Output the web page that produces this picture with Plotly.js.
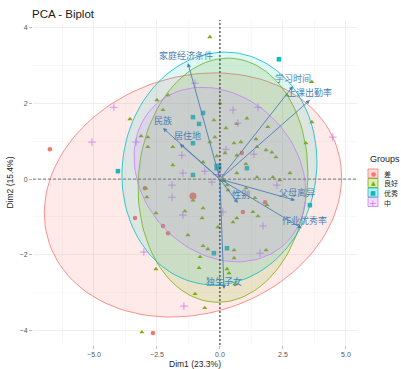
<!DOCTYPE html>
<html><head><meta charset="utf-8">
<script src="https://cdn.plot.ly/plotly-3.0.1.min.js"></script>
<style>body{margin:0;padding:0;background:#fff;} #chart{width:401px;height:369px;}</style>
</head><body><div id="chart"></div>
<script>
// ---- data ----
const groups = ['差', '良好', '优秀', '中'];
const groupColors = ['#F8766D', '#7CAE00', '#00BFC4', '#C77CFF'];
const groupFills = ['rgba(248,118,109,0.15)', 'rgba(124,174,0,0.15)', 'rgba(0,191,196,0.13)', 'rgba(199,124,255,0.15)'];
const groupSymbols = ['circle', 'triangle-up', 'square', 'cross-thin'];

const chaX = [-6.75, 0.87, -2.98, -3.37, -2.26, -2.06, 1.79, 0.91, -2.66];
const chaY = [0.79, 0.69, -0.24, -1.03, -1.24, -1.43, -0.61, -0.87, -4.07];

const lhX = [-0.40, 0.00, 3.65, 2.66, -2.50, -2.06, -3.57, -2.26, -3.13, -2.86, -2.86, -1.87, -1.87, -0.24, 1.07, 0.67, 0.24, 1.90, -0.20, -0.40, 0.56, 0.83, 1.43, 1.47, 0.20, 1.83, 2.06, 2.22, 0.67, -0.12, 1.03, -0.67, 0.67, 1.47, 2.10, 2.78, 3.41, 3.65, 2.38, -2.94, -1.07, -0.67, -1.39, -0.71, -2.54, -1.27, -0.08, -0.67, -0.48, -0.83, -2.54, -0.99, 0.56, 0.28, 0.36, 0.28, 0.32, 1.03, 1.39, 1.31, 1.51, 0.67, 0.52, 0.56, 1.83, -0.60, -3.10, 0.60, -2.90, -0.79, 1.87];
const lhY = [3.76, 2.01, 2.57, 2.22, 2.09, 2.22, 1.59, 1.83, 1.14, 1.11, 0.85, 0.85, 0.37, 1.56, 1.61, 1.46, 1.35, 1.38, 1.11, 0.98, 0.95, 0.98, 1.06, 0.85, 0.69, 0.77, 0.71, 0.58, 0.63, 0.61, 0.40, 0.45, 0.16, 0.05, 0.05, 0.16, 0.95, 1.51, -0.03, -0.24, -0.56, -0.77, -0.85, -1.03, -0.90, -1.48, -1.27, -1.77, -1.85, -2.35, -2.38, -3.04, -2.09, -2.38, -2.49, -0.16, -0.29, -0.24, -0.50, -0.87, -0.98, -1.03, -1.14, -1.88, -1.88, -3.41, -4.05, -2.78, -0.48, -2.06, -0.69];

const yxX = [2.34, -0.67, -0.83, -1.07, -4.05, -1.07, 1.07, -0.24, 0.28, -1.07, 3.57];
const yxY = [3.17, 1.75, 1.46, 0.95, 0.21, 0.11, 0.29, -1.96, -1.83, 1.64, -0.69];

const zhX = [-4.21, -5.08, -3.33, -0.99, 0.52, 1.51, 0.71, 4.48, -1.51, -1.47, -0.60, 0.24, 1.35, -1.90, -1.90, -1.47, -0.32, 0.12, 2.26, 1.71, 1.59, -3.02, -1.43];
const zhY = [1.90, 0.98, 0.98, 2.54, 1.83, 1.90, 1.48, 1.11, 0.63, 0.16, 0.21, 0.79, 0.66, -0.16, -0.48, -0.95, -0.08, -0.87, -0.16, -1.24, -1.96, -1.93, -3.36];

const meanX = [-1.07, 0.12, -0.08, -0.05];
const meanY = [-0.45, -0.03, 0.32, 0.12];

// ellipse parameters (center, half-extent in x and y, covariance term)
const ellCx = [-1.07, 0.12, -0.02, 0.00];
const ellCy = [-0.42, -0.03, 0.28, 0.12];
const ellRx = [5.90, 3.37, 3.87, 3.41];
const ellRy = [3.23, 3.23, 3.08, 2.31];
const ellCov = [2.81, 0.65, 0.67, -1.60];

const varNames = ['家庭经济条件', '学习时间', '上课出勤率', '民族', '居住地', '父母离异', '作业优秀率', '性别', '独生子女'];
const varX = [-1.27, 2.90, 3.57, -2.26, -1.59, 2.98, 3.25, 0.71, 0.16];
const varY = [3.07, 2.46, 2.09, 1.35, 0.93, -0.56, -1.30, -0.63, -2.91];
const labelShiftX = [-2, 0, 0, 0, 8, 2, 3, 3, 0];

const xTitle = 'Dim1 (23.3%)';
const yTitle = 'Dim2 (15.4%)';
const chartTitle = 'PCA - Biplot';

// ---- build ----
const ptsX = [chaX, lhX, yxX, zhX];
const ptsY = [chaY, lhY, yxY, zhY];
const traces = [];
for (let g = 0; g < 4; g++) {
  const isCross = groupSymbols[g] === 'cross-thin';
  traces.push({
    type: 'scatter', mode: 'markers', name: groups[g], showlegend: false,
    x: ptsX[g], y: ptsY[g],
    marker: { symbol: groupSymbols[g], size: isCross ? 5.5 : 4.5, color: groupColors[g],
      line: { color: groupColors[g], width: isCross ? 0.8 : 0 } },
    hoverinfo: 'skip'
  });
}
for (let g = 0; g < 4; g++) {
  const isCross = groupSymbols[g] === 'cross-thin';
  traces.push({
    type: 'scatter', mode: 'markers', showlegend: false,
    x: [meanX[g]], y: [meanY[g]],
    marker: { symbol: groupSymbols[g], size: isCross ? 8 : 7, color: groupColors[g],
      line: { color: groupColors[g], width: isCross ? 1.2 : 0 } },
    hoverinfo: 'skip'
  });
}
// ellipses
for (let g = 0; g < 4; g++) {
  const l11 = ellRx[g];
  const l21 = ellCov[g] / l11;
  const l22 = Math.sqrt(ellRy[g] * ellRy[g] - l21 * l21);
  const ex = [], ey = [];
  for (let i = 0; i <= 120; i++) {
    const t = 2 * Math.PI * i / 120;
    ex.push(ellCx[g] + l11 * Math.cos(t));
    ey.push(ellCy[g] + l21 * Math.cos(t) + l22 * Math.sin(t));
  }
  traces.push({
    type: 'scatter', mode: 'lines', showlegend: false, x: ex, y: ey,
    fill: 'toself', fillcolor: groupFills[g],
    line: { color: groupColors[g], width: 0.8 }, hoverinfo: 'skip'
  });
}

const annotations = [];
const blue = '#4A7FB5';
for (let i = 0; i < varNames.length; i++) {
  annotations.push({
    x: varX[i], y: varY[i], ax: 0, ay: 0, xref: 'x', yref: 'y', axref: 'x', ayref: 'y',
    text: '', showarrow: true, arrowhead: 2, arrowsize: 0.9, arrowwidth: 0.9, arrowcolor: blue
  });
  annotations.push({
    x: varX[i], y: varY[i], xref: 'x', yref: 'y', text: varNames[i], showarrow: false,
    xshift: labelShiftX[i], yshift: 8,
    font: { family: 'Noto Sans CJK SC, sans-serif', size: 9, color: blue }
  });
}

// custom legend (Groups)
const L = 33, R = 357, T = 20, B = 345;
const px = v => (v - L) / (R - L);
const py = v => (B - v) / (B - T);
const shapes = [
  { type: 'line', xref: 'x', yref: 'paper', x0: 0, x1: 0, y0: 0, y1: 1, line: { color: '#222', width: 1, dash: '2px,2px' }, layer: 'above' },
  { type: 'line', xref: 'paper', yref: 'y', x0: 0, x1: 1, y0: 0, y1: 0, line: { color: '#777', width: 1, dash: '3px,2px' }, layer: 'above' }
];
annotations.push({ xref: 'paper', yref: 'paper', x: px(368), y: py(159), xanchor: 'left', yanchor: 'middle',
  text: 'Groups', showarrow: false, font: { family: 'Liberation Sans, Arial, sans-serif', size: 9, color: '#222' } });
const glyphs = ['●', '▲', '■', '+'];
const keyCy = [173.5, 183, 192.5, 202];
for (let g = 0; g < 4; g++) {
  shapes.push({ type: 'rect', xref: 'paper', yref: 'paper', x0: px(368), x1: px(378), y0: py(keyCy[g] - 4.5), y1: py(keyCy[g] + 4.5),
    fillcolor: groupFills[g].replace(/0\.1[35]\)/, '0.25)'), line: { color: groupColors[g], width: 0.8 } });
  annotations.push({ xref: 'paper', yref: 'paper', x: px(373), y: py(keyCy[g]), xanchor: 'center', yanchor: 'middle',
    text: glyphs[g], showarrow: false, height: 9, font: { family: 'DejaVu Sans', size: g === 3 ? 9 : 6, color: groupColors[g] } });
  annotations.push({ xref: 'paper', yref: 'paper', x: px(382), y: py(keyCy[g]), xanchor: 'left', yanchor: 'middle',
    text: groups[g], showarrow: false, height: 9, font: { family: 'Noto Sans CJK SC, sans-serif', size: 7, color: '#222' } });
}

const axisCommon = {
  showgrid: true, gridcolor: '#EBEBEB', gridwidth: 0.8, zeroline: false, showline: false,
  ticks: 'outside', ticklen: 3, tickcolor: '#aaa', tickwidth: 0.8,
  tickfont: { family: 'Liberation Sans, Arial, sans-serif', size: 7, color: '#555' }
};
const layout = {
  width: 401, height: 369,
  margin: { l: L, r: 401 - R, t: T, b: 369 - B },
  paper_bgcolor: '#fff', plot_bgcolor: '#fff',
  showlegend: false,
  title: { text: chartTitle, xref: 'container', yref: 'container', x: 32 / 401, y: 1 - 14 / 369,
    xanchor: 'left', yanchor: 'middle', font: { family: 'Liberation Sans, Arial, sans-serif', size: 11.5, color: '#1a1a1a' } },
  xaxis: Object.assign({}, axisCommon, {
    range: [-7.42, 5.44], tick0: 0, dtick: 2.5, tickformat: '.1f',
    minor: { tick0: 1.25, dtick: 2.5, showgrid: true, gridcolor: '#F3F3F3', gridwidth: 0.6, ticks: '' },
    title: { text: xTitle, standoff: 3, font: { family: 'Liberation Sans, Arial, sans-serif', size: 8.5, color: '#222' } }
  }),
  yaxis: Object.assign({}, axisCommon, {
    range: [-4.39, 4.21], tick0: 0, dtick: 2,
    minor: { tick0: 1, dtick: 2, showgrid: true, gridcolor: '#F3F3F3', gridwidth: 0.6, ticks: '' },
    title: { text: yTitle, standoff: 4, font: { family: 'Liberation Sans, Arial, sans-serif', size: 8.5, color: '#222' } }
  }),
  shapes: shapes,
  annotations: annotations
};
Plotly.newPlot('chart', traces, layout, { displayModeBar: false, staticPlot: true });
</script>
</body></html>
